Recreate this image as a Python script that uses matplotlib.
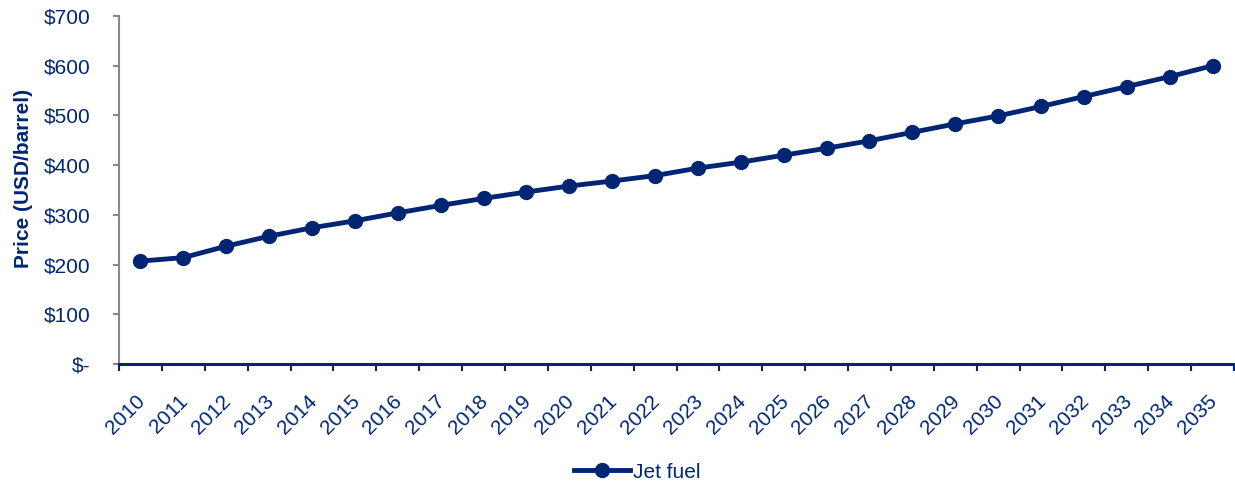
import matplotlib
matplotlib.use("Agg")
import matplotlib.pyplot as plt
import matplotlib.transforms as mtransforms
from matplotlib.ticker import FuncFormatter, FixedLocator

years = [str(y) for y in range(2010, 2036)]
jet_fuel = [207, 214, 237, 257, 274, 288, 304, 319, 333, 346, 358, 368,
            379, 394, 406, 420, 434, 449, 466, 483, 499, 518, 538, 558, 578, 600]

navy = "#002673"
plt.rcParams['font.family'] = ['Liberation Sans', 'DejaVu Sans']

fig = plt.figure(figsize=(12.35, 4.82), dpi=100)
ax = fig.add_axes([119/1235, 1-364/482, (1234-119)/1235, (364-16)/482])

x = list(range(len(years)))
ax.plot(x, jet_fuel, color=navy, lw=3.5, marker='o', ms=10, label='Jet fuel')

ax.set_xlim(-0.5, len(years)-0.5)
ax.set_ylim(0, 700)
ax.set_yticks(range(0, 701, 100))
ax.yaxis.set_major_formatter(FuncFormatter(lambda v, p: "$-" if v == 0 else f"${int(v)}"))
ax.set_xticks(x)
ax.set_xticklabels(years, rotation=45, ha='right', rotation_mode='anchor')
ax.xaxis.set_minor_locator(FixedLocator([i - 0.5 for i in range(len(years)+1)]))
ax.tick_params(axis='x', which='major', length=0, pad=20, labelsize=15, labelcolor=navy)
ax.tick_params(axis='x', which='minor', length=5, width=1.5, color=navy, direction='out')
ax.tick_params(axis='y', length=4.5, width=1.5, color='#888888', labelsize=15, labelcolor=navy, pad=16)

offset = mtransforms.ScaledTranslation(-5/100, 0, fig.dpi_scale_trans)
for lbl in ax.get_xticklabels():
    lbl.set_transform(lbl.get_transform() + offset)

for s in ['top', 'right']:
    ax.spines[s].set_visible(False)
ax.spines['left'].set_color('#888888')
ax.spines['left'].set_linewidth(1.5)
ax.spines['bottom'].set_color(navy)
ax.spines['bottom'].set_linewidth(2.2)

ax.set_ylabel('Price (USD/barrel)', fontsize=15, fontweight='bold', color=navy)
ax.yaxis.set_label_coords(-86/1115, (364-178)/348)

leg = fig.legend(loc='center', bbox_to_anchor=(637/1235, 1-472/482), frameon=False,
                 fontsize=15, handlelength=2.7, labelcolor=navy, handletextpad=0.15)

fig.savefig('out.png', dpi=100)
